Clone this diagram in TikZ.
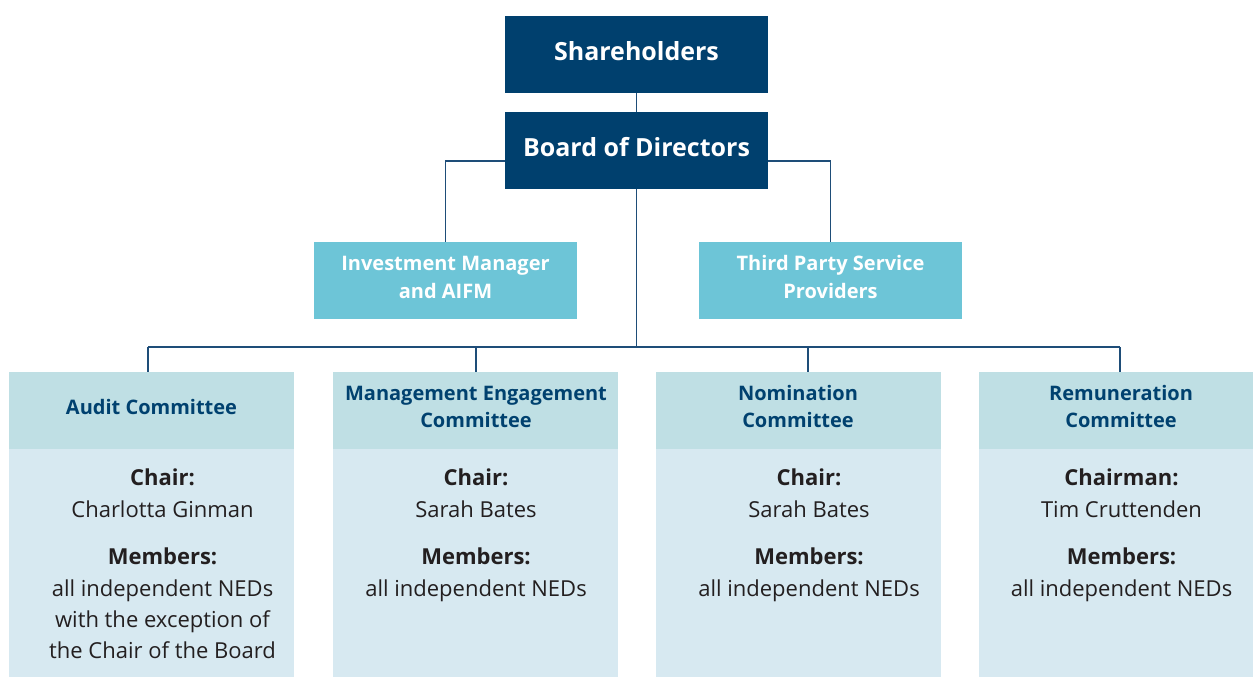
\documentclass[tikz,border=0pt]{standalone}
\usepackage{fontspec}
\setmainfont{Open Sans}
\definecolor{navy}{HTML}{00406E}
\definecolor{cyanbox}{HTML}{6DC5D7}
\definecolor{headbox}{HTML}{BFDFE4}
\definecolor{bodybox}{HTML}{D7E9F1}
\definecolor{linec}{HTML}{1E4D78}
\definecolor{headtxt}{HTML}{00416F}
\definecolor{bodytxt}{HTML}{231F20}
\tikzset{
  topbox/.style={fill=navy, text=white, minimum width=263pt, minimum height=77pt, inner sep=0pt, draw=none},
  midbox/.style={fill=cyanbox, minimum width=263pt, minimum height=77pt, inner sep=0pt, draw=none},
  headrect/.style={fill=headbox, minimum width=285pt, minimum height=77pt, inner sep=0pt, draw=none},
  bodyrect/.style={fill=bodybox, minimum width=285pt, minimum height=240pt, inner sep=0pt, draw=none, anchor=north},
  toptxt/.style={text=white, font=\fontsize{25}{29}\selectfont\bfseries, anchor=base, inner sep=0pt},
  midtxt/.style={text=white, font=\fontsize{20}{23}\selectfont\bfseries, anchor=base, inner sep=0pt},
  headtext/.style={text=headtxt, font=\fontsize{20}{23}\selectfont\bfseries, anchor=base, inner sep=0pt},
  lbl/.style={text=bodytxt, font=\fontsize{22}{26}\selectfont\bfseries, anchor=base, inner sep=0pt},
  val/.style={text=bodytxt, font=\fontsize{22}{26}\selectfont, anchor=base, inner sep=0pt},
  conn/.style={draw=linec, line width=1.2pt}
}
\begin{document}
\begin{tikzpicture}[x=1pt,y=-1pt]
\clip (0,0) rectangle (1253,677);
\fill[white] (0,0) rectangle (1253,677);
% top boxes
\node[topbox] (share) at (636.5,54.5) {};
\node[topbox] (board) at (636.5,150.5) {};
\node[toptxt] (sharet) at (636.5,61) {Shareholders};
\node[toptxt] (boardt) at (636.5,156) {Board of Directors};
% middle boxes
\node[midbox] (inv) at (445.5,280.5) {};
\node[midbox] (third) at (830.5,280.5) {};
\node[midtxt] (inv1) at (445.5,270) {Investment Manager};
\node[midtxt] (inv2) at (445.5,298) {and AIFM};
\node[midtxt] (thi1) at (830.5,270) {Third Party Service};
\node[midtxt] (thi2) at (830.5,298) {Providers};
% committee boxes
\node[headrect] (audh) at (151.5,410.5) {};
\node[headrect] (manh) at (475.5,410.5) {};
\node[headrect] (nomh) at (798.5,410.5) {};
\node[headrect] (remh) at (1121.5,410.5) {};
\node[bodyrect] (audb) at (audh.south) {};
\node[bodyrect] (manb) at (manh.south) {};
\node[bodyrect] (nomb) at (nomh.south) {};
\node[bodyrect] (remb) at (remh.south) {};
% header texts
\node[headtext] (audt) at (151.5,414) {Audit Committee};
\node[headtext] (mant1) at (476,400) {Management Engagement};
\node[headtext] (mant2) at (476,427) {Committee};
\node[headtext] (nomt1) at (798,400) {Nomination};
\node[headtext] (nomt2) at (798,427) {Committee};
\node[headtext] (remt1) at (1121,400) {Remuneration};
\node[headtext] (remt2) at (1121,427) {Committee};
% body texts
\node[lbl] (a1) at (162.5,485) {Chair:};
\node[val] (a2) at (162.5,517) {Charlotta Ginman};
\node[lbl] (a3) at (162.5,564) {Members:};
\node[val] (a4) at (162.5,596) {all independent NEDs};
\node[val] (a5) at (162.5,627) {with the exception of};
\node[val] (a6) at (162.5,658) {the Chair of the Board};
\node[lbl] (m1) at (476,485) {Chair:};
\node[val] (m2) at (476,517) {Sarah Bates};
\node[lbl] (m3) at (476,564) {Members:};
\node[val] (m4) at (476,596) {all independent NEDs};
\node[lbl] (n1) at (809,485) {Chair:};
\node[val] (n2) at (809,517) {Sarah Bates};
\node[lbl] (n3) at (809,564) {Members:};
\node[val] (n4) at (809,596) {all independent NEDs};
\node[lbl] (r1) at (1121.5,485) {Chairman:};
\node[val] (r2) at (1121.5,517) {Tim Cruttenden};
\node[lbl] (r3) at (1121.5,564) {Members:};
\node[val] (r4) at (1121.5,596) {all independent NEDs};
% connectors
\coordinate (d1) at (148,347);
\coordinate (d2) at (476,347);
\coordinate (d3) at (808,347);
\coordinate (d4) at (1120,347);
\draw[conn] (share.south) -- (board.north);
\draw[conn] ([yshift=-10.5pt]board.west) -| (inv.north);
\draw[conn] ([yshift=-10.5pt]board.east) -| (third.north);
\draw[conn] (board.south) -- (board.south |- d1);
\draw[conn] (d1) -- (d4);
\draw[conn] (d1) -- (d1 |- audh.north);
\draw[conn] (d2) -- (d2 |- manh.north);
\draw[conn] (d3) -- (d3 |- nomh.north);
\draw[conn] (d4) -- (d4 |- remh.north);
\end{tikzpicture}
\end{document}
